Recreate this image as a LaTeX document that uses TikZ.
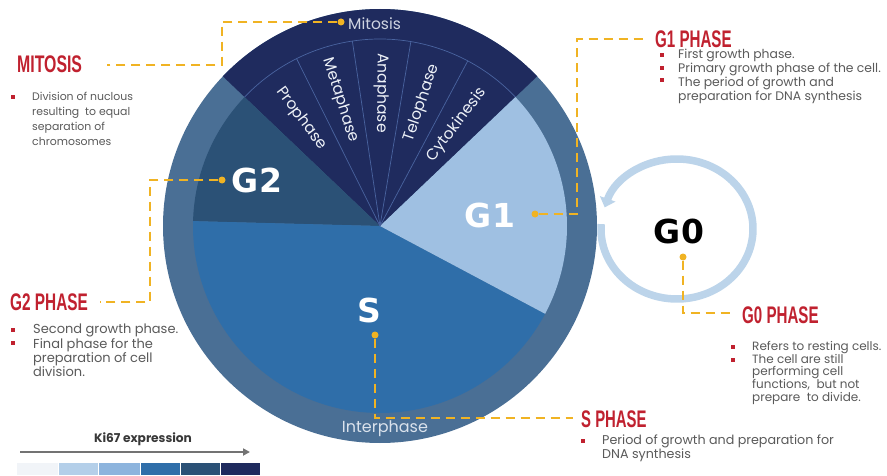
\documentclass[tikz,border=0pt]{standalone}
\usepackage{fontspec}
\usepackage{graphicx}
\setmainfont{Poppins}
\newfontfamily\gfont{DejaVu Sans}
\newfontfamily\hfont{Liberation Sans}
\usetikzlibrary{arrows.meta}
\definecolor{mitc}{HTML}{1F2B5E}
\definecolor{g2c}{HTML}{2B5176}
\definecolor{sc}{HTML}{2F6EA9}
\definecolor{g1c}{HTML}{9FC0E2}
\definecolor{ringc}{HTML}{4A6F95}
\definecolor{divc}{HTML}{4A64A0}
\definecolor{ylw}{HTML}{F0B323}
\definecolor{redc}{HTML}{C0212F}
\definecolor{bodyc}{HTML}{5A5A5A}
\definecolor{labc}{HTML}{EEF2F8}
\definecolor{g0c}{HTML}{BCD4EA}
\definecolor{kone}{HTML}{B4CFE9}
\definecolor{ktwo}{HTML}{8DB4DD}
\definecolor{kzero}{HTML}{F1F4F8}
\tikzset{
 conn/.style={draw=ylw, line width=2.4pt, dash pattern=on 9pt off 6pt},
 ydot/.style={circle, fill=ylw, inner sep=0pt, minimum size=7pt},
 head/.style={font=\hfont\bfseries\fontsize{24}{24}\selectfont, text=redc, inner sep=0pt, anchor=west},
 body/.style={text=bodyc, inner sep=0pt, anchor=north west, align=left},
 bul/.style={fill=redc, minimum size=4pt, inner sep=0pt},
 big/.style={font=\gfont\bfseries\fontsize{33}{33}\selectfont, text=white, inner sep=0pt},
 phl/.style={font=\fontsize{15.5}{15.5}\selectfont, text=labc, inner sep=0pt},
}
\begin{document}
\begin{tikzpicture}[x=1pt,y=1pt]
\useasboundingbox (0,0) rectangle (887,475);
\fill[white] (0,0) rectangle (887,475);
% main cycle
\coordinate (C) at (380,249);
\fill[ringc] (C) circle[radius=217];
\fill[mitc] (C) -- ++(43.6:217) arc[start angle=43.6,end angle=136.4,radius=217] -- cycle;
\fill[g2c] (C) -- ++(136.4:187) arc[start angle=136.4,end angle=178.5,radius=187] -- cycle;
\fill[sc] (C) -- ++(178.5:187) arc[start angle=178.5,end angle=332,radius=187] -- cycle;
\fill[g1c] (C) -- ++(-28:187) arc[start angle=-28,end angle=43.6,radius=187] -- cycle;
\draw[divc, line width=0.7pt] ([shift={(43.6:187)}]C) arc[start angle=43.6,end angle=136.4,radius=187];
\foreach \a in {62,80.5,98.5,116.5} \draw[divc, line width=0.7pt] (C) -- ++(\a:187);
% mitosis sub-phases
\node[phl, rotate=52.8] (cyto) at ([shift={(52.8:127)}]C) {Cytokinesis};
\node[phl, rotate=71.2] (telo) at ([shift={(71.2:130)}]C) {Telophase};
\node[phl, rotate=-90.5] (ana) at ([shift={(89.5:133)}]C) {Anaphase};
\node[phl, rotate=-72.5] (meta) at ([shift={(107.5:132)}]C) {Metaphase};
\node[phl, rotate=-53.6] (pro) at ([shift={(126.4:133)}]C) {Prophase};
\node[font=\fontsize{15.5}{15.5}\selectfont, text=labc!85!mitc, anchor=west, inner sep=0pt] (mitlab) at (348,451) {Mitosis};
\node[font=\fontsize{16}{16}\selectfont, text=labc!88!ringc, inner sep=0pt] (interlab) at (385,46) {Interphase};
% big labels
\node[big] (G2) at (257,295) {G2};
\node[big] (G1) at (490,260) {G1};
\node[big] (S) at (369,165) {S};
% G0
\coordinate (G0C) at (677,246);
\draw[g0c, line width=7.5pt, -{Triangle[length=9pt,width=16pt]}] ([shift={(176:76 and 70)}]G0C) arc[start angle=176, end angle=522, x radius=76, y radius=70];
\node[big, text=black] (G0) at (679,244) {G0};
% dots
\node[ydot] (mitdot) at (341,453) {};
\node[ydot] (g1dot) at (535,261) {};
\node[ydot] (g2dot) at (222,295) {};
\node[ydot] (g0dot) at (683,218) {};
\node[ydot] (sdot) at (375,140) {};
% headings
\node[head] (mithead) at (17,411) {\scalebox{0.66}[1]{MITOSIS}};
\node[head] (g1head) at (655,436) {\scalebox{0.63}[1]{G1 PHASE}};
\node[head] (g2head) at (10,172.5) {\scalebox{0.64}[1]{G2 PHASE}};
\node[head] (g0head) at (742,160) {\scalebox{0.63}[1]{G0 PHASE}};
\node[head] (shead) at (581,56) {\scalebox{0.62}[1]{S PHASE}};
\coordinate (mitend) at (107,410);
\coordinate (g1end) at (645,436);
\coordinate (g2end) at (100,173);
\coordinate (g0end) at (733,162);
\coordinate (send) at (573,57);
% connectors
\draw[conn] (mitdot) -- (222,453) -- (222,410) -- (mitend);
\draw[conn] (g1dot) -- (577,261) -- (577,436) -- (g1end);
\draw[conn] (g2dot) -- (150,295) -- (150,173) -- (g2end);
\draw[conn] (g0dot) -- (683,162) -- (g0end);
\draw[conn] (sdot) -- (375,57) -- (send);
% body texts
\node[body, font=\fontsize{10.9}{15}\selectfont] (mittext) at (32,383) {Division of nuclous\\resulting\ \ to equal\\separation of\\chromosomes};
\node[bul] (mitb1) at (13,378) {};
\node[body, font=\fontsize{12.4}{12.7}\selectfont] (g1text) at (678,426) {First growth phase.\\Primary growth phase of the cell.\\The period of growth and\\preparation for DNA synthesis};
\node[bul] (g1b1) at (662,420) {};
\node[bul] (g1b2) at (662,407.3) {};
\node[bul] (g1b3) at (662,394.6) {};
\node[body, font=\fontsize{13}{13.2}\selectfont] (g2text) at (33,151) {Second growth phase.\\Final phase for the\\preparation of cell\\division.};
\node[bul] (g2b1) at (13,145) {};
\node[bul] (g2b2) at (13,131.8) {};
\node[body, font=\fontsize{12}{12.6}\selectfont] (g0text) at (752,133.6) {Refers to resting cells.\\The cell are still\\performing cell\\functions,\ \ but not\\prepare\ \ to divide.};
\node[bul] (g0b1) at (733,128) {};
\node[bul] (g0b2) at (733,115.4) {};
\node[body, font=\fontsize{12.7}{12.6}\selectfont] (stext) at (602,40) {Period of growth and preparation for\\DNA synthesis};
\node[bul] (sb1) at (583,34) {};
% Ki67 legend
\node[font=\bfseries\fontsize{12.2}{12.2}\selectfont, text=black!78, inner sep=0pt] (ki) at (143,36) {Ki67 expression};
\coordinate (kistart) at (20,23);
\coordinate (kiend) at (250,23);
\draw[black!55, line width=1.8pt, -{Triangle[length=7pt,width=7pt]}] (kistart) -- (kiend);
\fill[kzero] (17,0) rectangle (57.5,12);
\fill[kone] (58.5,0) rectangle (97.5,12);
\fill[ktwo] (98.5,0) rectangle (139.5,12);
\fill[sc] (140.5,0) rectangle (179.5,12);
\fill[g2c] (180.5,0) rectangle (219.5,12);
\fill[mitc] (220.5,0) rectangle (260,12);
\end{tikzpicture}
\end{document}
